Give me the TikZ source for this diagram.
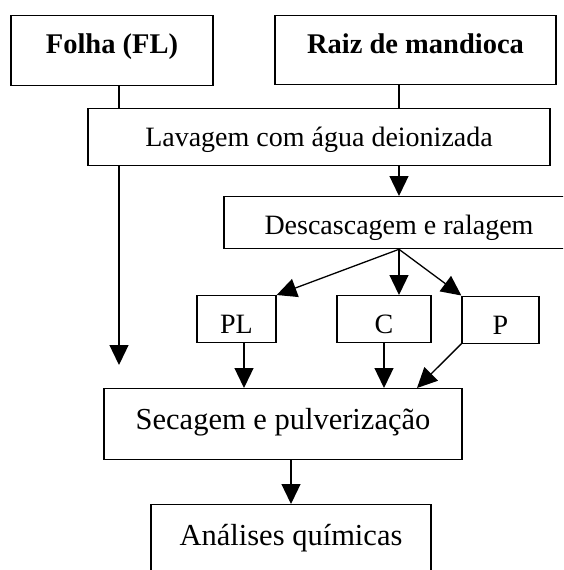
\documentclass[tikz,border=0pt]{standalone}
\usepackage{fontspec}
\setmainfont{Liberation Serif}
\usetikzlibrary{arrows.meta}

\begin{document}
\begin{tikzpicture}[
x=1pt, y=-1pt,
% boxes: text sits at a fixed distance from the top edge
box/.style={draw, rectangle, line width=1.3pt, inner sep=0, anchor=north, align=center, text height=38pt},
topbox/.style={box, font=\fontsize{28.5}{32}\selectfont\bfseries},
stepbox/.style={box, font=\fontsize{28}{32}\selectfont},
bigbox/.style={box, font=\fontsize{30.5}{34}\selectfont, text height=41pt},
% connectors
link/.style={line width=1.3pt},
seta/.style={link, -{Triangle[length=20pt, width=19pt]}}
]

\useasboundingbox (0,0) rectangle (563,570);
\clip (0,0) rectangle (563,570);

% raw materials
\node[topbox, minimum width=202, text depth=32pt] (folha) at (112,15) {Folha (FL)};
\node[topbox, minimum width=281, text depth=31pt] (raiz) at (415.5,15) {Raiz de mandioca};

% washing and peeling
\node[stepbox, minimum width=462, text depth=19pt] (lavagem) at (319,108) {Lavagem com água deionizada};
\node[stepbox, minimum width=350, text depth=14pt] (descasca) at (399,196) {Descascagem e ralagem};

% fractions
\node[stepbox, minimum width=79, text depth=9pt] (pl) at (236.5,295) {PL};
\node[stepbox, minimum width=94, text depth=9pt] (c) at (384,295) {C};
\node[stepbox, minimum width=77, text depth=9pt] (p) at (500.5,295.5) {P};

% drying and analysis
\node[bigbox, minimum width=358, text depth=30pt] (secagem) at (283,388) {Secagem e pulverização};
\node[bigbox, minimum width=280, text depth=45pt] (analises) at (291,504) {Análises químicas};

% x positions of the vertical lines
\coordinate (fl) at (119,0);
\coordinate (rz) at (399,0);
\coordinate (plx) at (244,0);
\coordinate (px) at (417,0);
\coordinate (flend) at (119,365);

% leaf line
\draw[link] (folha.south -| fl) -- (lavagem.north -| fl);
\draw[seta] (lavagem.south -| fl) -- (flend);

% root line
\draw[link] (raiz.south -| rz) -- (lavagem.north -| rz);
\draw[seta] (lavagem.south -| rz) -- (descasca.north -| rz);

\draw[seta] (descasca.south -| rz) -- (pl.north east);
\draw[seta] (descasca.south -| rz) -- (c.north -| rz);
\draw[seta] (descasca.south -| rz) -- (p.north west);

\draw[seta] (pl.south -| plx) -- (secagem.north -| plx);
\draw[seta] (c.south) -- (secagem.north -| c.south);
\draw[seta] (p.south west) -- (secagem.north -| px);

\draw[seta] (secagem.south -| analises.north) -- (analises.north);

\end{tikzpicture}
\end{document}
